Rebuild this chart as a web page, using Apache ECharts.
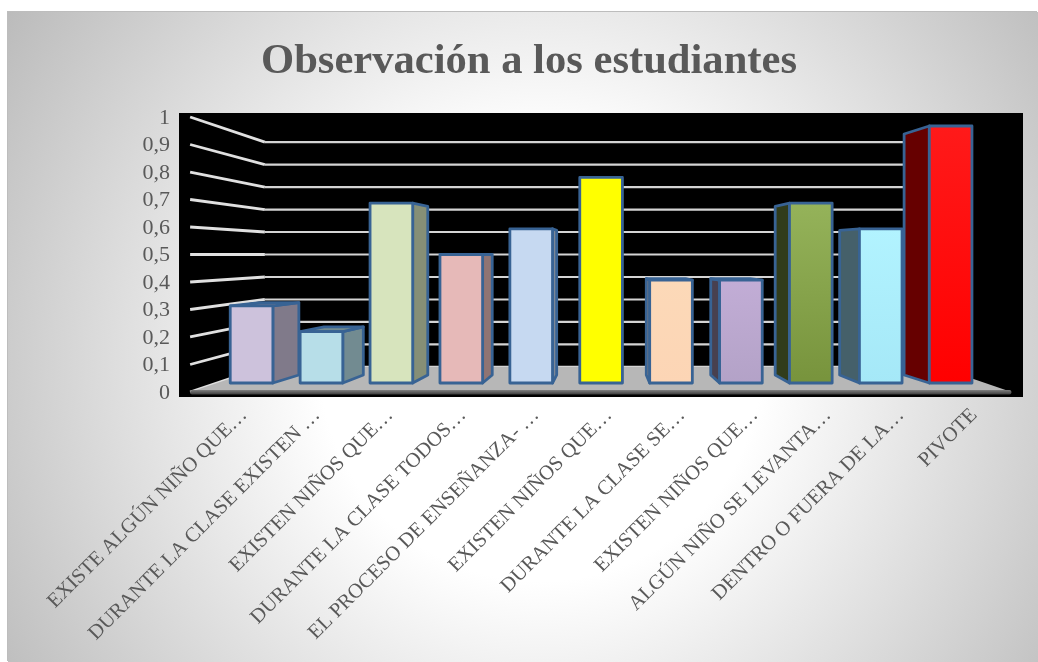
<!DOCTYPE html>
<html><head><meta charset="utf-8">
<style>html,body{margin:0;padding:0;background:#fff;overflow:hidden}#c{position:absolute;left:8px;top:12px;width:1030px;height:650px;box-shadow:-1px -1px 0 #bdbdbd;}</style>
<script src="https://cdn.jsdelivr.net/npm/echarts@6/dist/echarts.min.js"></script>
</head><body><div id="c"></div>
<script>
var titleText = 'Observación a los estudiantes';
var categories = ['EXISTE ALGÚN NIÑO QUE…','DURANTE LA CLASE EXISTEN …','EXISTEN NIÑOS QUE…','DURANTE LA CLASE TODOS…','EL PROCESO DE ENSEÑANZA- …','EXISTEN NIÑOS QUE…','DURANTE LA CLASE SE…','EXISTEN NIÑOS QUE…','ALGÚN NIÑO SE LEVANTA…','DENTRO O FUERA DE LA…','PIVOTE'];
var values = [0.3,0.2,0.7,0.5,0.6,0.8,0.4,0.4,0.7,0.6,1];
var yTicks = [0,0.1,0.2,0.3,0.4,0.5,0.6,0.7,0.8,0.9,1];
var topColors = ['#cdc2dc','#b7dee8','#d7e4bd','#e6b9b8','#c6d9f1','#ffff00','#fcd9b8','#c2add6','#95b35a','#b2f3ff','#ff1a1a'];
var botColors = ['#cdc2dc','#b7dee8','#d7e4bd','#e6b9b8','#c6d9f1','#ffff00','#fcd5b5','#b3a2c7','#77933c','#a5e8f7','#ff0000'];
var sideColorsDark = ['#807a8a','#728b91','#868f76','#907473','#7c8897','#a0a000','#9e8671','#48404f','#313c1b','#45606a','#660000'];

var OX = 8, OY = 12;
var K_BAR = {x:0.922, y:0.9375}, K_WALL = {x:0.876, y:0.875}, K_FRONT = {x:1.068, y:1.07};
var VX = 606 - OX;

function project(p, k, vy){ return [VX + k.x*(p[0]-VX), vy + k.y*(p[1]-vy)]; }
function plotEnds(api, v){
  var hb = api.size([1,0])[0]/2;
  var a = api.coord([0, v]), b = api.coord([categories.length-1, v]);
  return [[a[0]-hb, a[1]], [b[0]+hb, b[1]]];
}

function renderBar(params, api){
  var i = api.value(0), v = api.value(1);
  var catW = api.size([1,0])[0];
  var hw = catW*0.305;
  var c = api.coord([i, v]), b = api.coord([i, 0]);
  var vy = api.coord([0, 0.5])[1];
  var l = c[0]-hw, r = c[0]+hw, t = c[1], bt = b[1];
  var border = {stroke:'#386394', lineWidth:2.8, lineJoin:'round'};
  var P = function(x,y){ return project([x,y], K_BAR, vy); };
  var kids = [];
  var sx = null;
  if (r < VX) sx = r; else if (l > VX) sx = l;
  if (sx !== null) {
    kids.push({type:'polygon', shape:{points:[[sx,t],[sx,bt],P(sx,bt),P(sx,t)]}, style:Object.assign({fill:sideColorsDark[i]},border)});
  }
  if (t > vy + 1) {
    kids.push({type:'polygon', shape:{points:[[l,t],[r,t],P(r,t),P(l,t)]}, style:Object.assign({fill:sideColorsDark[i]},border)});
  }
  kids.push({type:'rect', shape:{x:l,y:t,width:r-l,height:bt-t}, style:Object.assign({fill:new echarts.graphic.LinearGradient(0,0,0,1,[{offset:0,color:topColors[i]},{offset:1,color:botColors[i]}])},border)});
  return {type:'group', children:kids};
}

function renderWallLine(params, api){
  var v = api.value(0);
  var e = plotEnds(api, v);
  var vy = api.coord([0,0.5])[1];
  var f = project(e[0],K_FRONT,vy), b = project(e[0],K_WALL,vy), br = project(e[1],K_WALL,vy);
  return {type:'group', children:[
    {type:'polyline', shape:{points:[f,b]}, style:{fill:'none', stroke:'#e0e0e0', lineWidth:2.8}},
    {type:'polyline', shape:{points:[b,br]}, style:{fill:'none', stroke:'#d4d4d4', lineWidth:2.2}}
  ]};
}

function renderFloor(params, api){
  var e = plotEnds(api, 0);
  var vy = api.coord([0,0.5])[1];
  var fL = project(e[0],K_FRONT,vy), fR = project(e[1],K_FRONT,vy), bL = project(e[0],K_WALL,vy), bR = project(e[1],K_WALL,vy);
  return {type:'group', children:[
    {type:'polygon', shape:{points:[fL,bL,bR,fR]}, style:{fill:'#b7b7b7'}},
    {type:'rect', shape:{x:fL[0],y:fL[1]-2,width:fR[0]-fL[0],height:4.5,r:2}, style:{fill:new echarts.graphic.LinearGradient(0,0,0,1,[{offset:0,color:'#808080'},{offset:1,color:'#3c3c3c'}])}}
  ]};
}

var chart = echarts.init(document.getElementById('c'), null, {renderer:'canvas'});
var serif = '"Liberation Serif","DejaVu Serif",serif';
var frontGrid = {left:216.6-OX, top:126-OY, width:769, height:257};
var labelGrid = {left:207.5-OX, top:118-OY, width:803, height:275};
chart.setOption({
  animation:false,
  backgroundColor:new echarts.graphic.RadialGradient(0.517,0.536,1,[{offset:0,color:'#ffffff'},{offset:0.34,color:'#ffffff'},{offset:1,color:'#b9b9b9'}]),
  title:{text:titleText,left:256-OX,top:23,textStyle:{fontFamily:serif,fontWeight:'bold',fontSize:42.6,color:'#595959'}},
  graphic:[{type:'rect',z:-10,silent:true,shape:{x:179-OX,y:113-OY,width:844,height:284},style:{fill:'#000'}}],
  grid:[labelGrid, frontGrid],
  xAxis:[
    {gridIndex:0,type:'category',data:categories,axisLine:{show:false},axisTick:{show:false},
     axisLabel:{interval:0,rotate:45,margin:19,color:'#595959',fontFamily:serif,fontSize:20.6}},
    {gridIndex:1,type:'category',data:categories,show:false}
  ],
  yAxis:[
    {gridIndex:0,type:'value',min:0,max:1,interval:0.1,splitLine:{show:false},axisLine:{show:false},axisTick:{show:false},
     axisLabel:{margin:37.5,color:'#595959',fontFamily:serif,fontSize:22,formatter:function(v){return String(+v.toFixed(1)).replace('.',',');}}},
    {gridIndex:1,type:'value',min:0,max:1,interval:0.1,show:false,splitLine:{show:false}}
  ],
  series:[
    {type:'custom',xAxisIndex:1,yAxisIndex:1,z:2,silent:true,clip:false,encode:{x:1,y:0},data:yTicks.map(function(v){return [v];}),renderItem:renderWallLine},
    {type:'custom',xAxisIndex:1,yAxisIndex:1,z:3,silent:true,clip:false,data:[[0]],renderItem:renderFloor},
    {type:'custom',xAxisIndex:1,yAxisIndex:1,z:4,clip:false,silent:true,encode:{x:0,y:1},data:values.map(function(v,i){return [i,v];}),renderItem:renderBar}
  ]
});
</script></body></html>
